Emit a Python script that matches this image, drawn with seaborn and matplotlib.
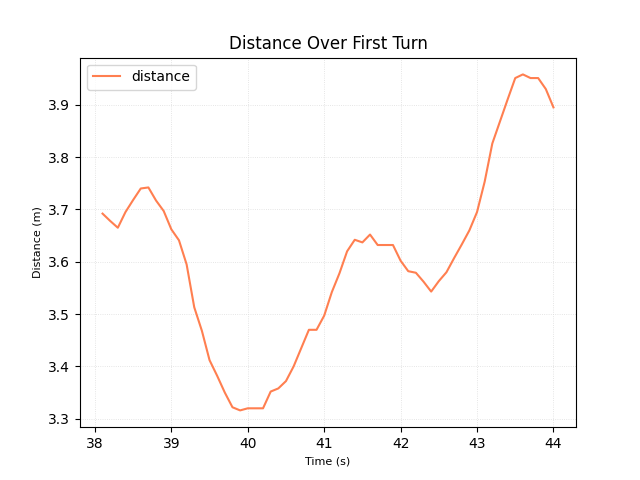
import numpy as np
import pandas as pd
import seaborn as sns
import matplotlib.pyplot as plt

# Datos
time_s = [38.1, 38.2, 38.3, 38.4, 38.5, 38.6, 38.7, 38.8, 38.9, 39.0,
          39.1, 39.2, 39.3, 39.4, 39.5, 39.6, 39.7, 39.8, 39.9, 40.0,
          40.1, 40.2, 40.3, 40.4, 40.5, 40.6, 40.7, 40.8, 40.9, 41.0,
          41.1, 41.2, 41.3, 41.4, 41.5, 41.6, 41.7, 41.8, 41.9, 42.0,
          42.1, 42.2, 42.3, 42.4, 42.5, 42.6, 42.7, 42.8, 42.9, 43.0,
          43.1, 43.2, 43.3, 43.4, 43.5, 43.6, 43.7, 43.8, 43.9, 44.0]
distance = [3.692, 3.678, 3.665, 3.695, 3.718, 3.740, 3.742, 3.717, 3.697, 3.662,
            3.641, 3.595, 3.513, 3.468, 3.412, 3.382, 3.350, 3.322, 3.316, 3.320,
            3.320, 3.320, 3.352, 3.358, 3.372, 3.400, 3.435, 3.470, 3.470, 3.497,
            3.542, 3.578, 3.620, 3.642, 3.637, 3.652, 3.632, 3.632, 3.632, 3.602,
            3.582, 3.579, 3.562, 3.543, 3.563, 3.580, 3.607, 3.633, 3.660, 3.695,
            3.753, 3.826, 3.868, 3.910, 3.951, 3.958, 3.951, 3.951, 3.930, 3.895]

df = pd.DataFrame({"time": time_s, "distance": distance})

fig, ax = plt.subplots(figsize=(6.4, 4.8), dpi=100)
sns.lineplot(data=df, x="time", y="distance", color="#ff7f50", label="distance", ax=ax)
ax.grid(True, linestyle=":", linewidth=0.6, color="#dddddd")
ax.set_title("Distance Over First Turn")
ax.set_xlabel("Time (s)", fontsize=8)
ax.set_ylabel("Distance (m)", fontsize=8)
ax.legend(loc="upper left")
plt.savefig("out.png")
plt.close()
